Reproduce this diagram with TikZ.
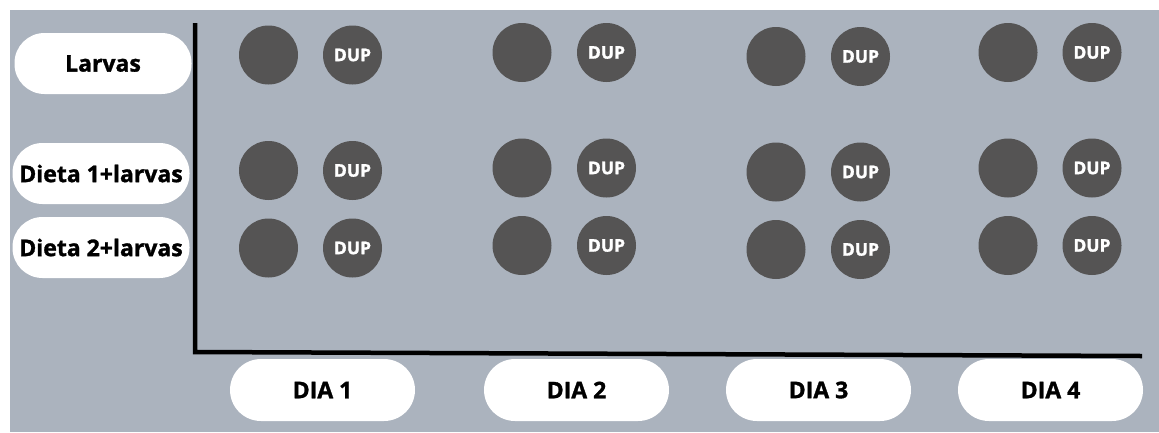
\documentclass[tikz,border=0pt]{standalone}
\usepackage{fontspec}
\setmainfont{Open Sans}[BoldFeatures={FakeBold=1.3}]
\usepackage{tikz}
\definecolor{PanelGray}{HTML}{ABB3BE}
\definecolor{DotGray}{HTML}{555454}

\begin{document}
\begin{tikzpicture}[x=1pt,y=-1pt,
    every node/.style={font=\bfseries\fontsize{23}{23}\selectfont},
    rowpill/.style={fill=white, rounded corners=30pt, minimum width=177pt, minimum height=61pt, inner sep=0pt},
    daypill/.style={fill=white, rounded corners=31pt, minimum width=185pt, minimum height=62pt, inner sep=0pt},
    dot/.style={circle, fill=DotGray, minimum size=59pt, inner sep=0pt,
      text=white, font=\bfseries\fontsize{17.5}{17.5}\selectfont},
    axisline/.style={line width=4.5pt, black}]
  \useasboundingbox (0,0) rectangle (1159,432);
  \fill[white] (0,0) rectangle (1159,432);
  \fill[PanelGray] (10,10) rectangle (1159,432);

  \node[rowpill] (larvas) at (103,63.5) {Larvas};
  \node[rowpill] (dieta1) at (101,173.5) {Dieta 1+larvas};
  \node[rowpill] (dieta2) at (101,247.5) {Dieta 2+larvas};

  \foreach \c/\xa/\xb/\dy in {1/268.5/352.5/0, 2/522/606.5/-2.5, 3/776/860.5/1.5, 4/1008/1092/-2.5} {
    \foreach \r/\y in {1/55, 2/170.5, 3/248} {
      \node[dot] (c\c r\r) at (\xa,\y+\dy) {};
      \node[dot] (d\c r\r) at (\xb,\y+\dy) {DUP};
    }
  }

  \coordinate (ytop) at (195,23);
  \coordinate (origin) at (195,352);
  \coordinate (xend) at (1142,356);
  \draw[axisline] (ytop) -- (origin) -- (xend);

  \node[daypill] (dia1) at (322.5,390) {DIA 1};
  \node[daypill] (dia2) at (576.5,390) {DIA 2};
  \node[daypill] (dia3) at (818.5,390) {DIA 3};
  \node[daypill] (dia4) at (1050.5,390) {DIA 4};
\end{tikzpicture}
\end{document}
